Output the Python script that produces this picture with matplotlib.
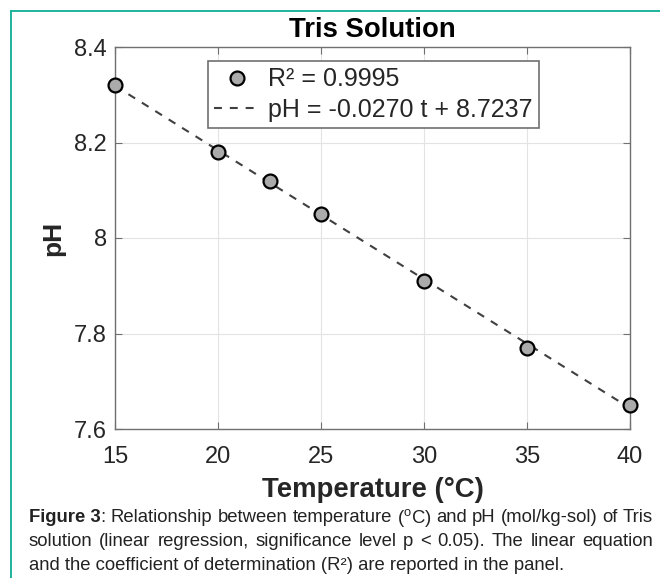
import matplotlib
matplotlib.use("Agg")
import matplotlib.pyplot as plt
from matplotlib.lines import Line2D
import numpy as np

plt.rcParams['font.family'] = ['Liberation Sans', 'DejaVu Sans']
plt.rcParams['mathtext.fontset'] = 'custom'
plt.rcParams['mathtext.rm'] = 'Liberation Sans'

# data
temperature = [15, 20, 22.5, 25, 30, 35, 40]
ph_values = [8.32, 8.18, 8.12, 8.05, 7.91, 7.77, 7.65]
slope = -0.0270
intercept = 8.7237
r2_label = "R² = 0.9995"
fit_label = "pH = -0.0270 t + 8.7237"

x_ticks = [15, 20, 25, 30, 35, 40]
y_ticks = [7.6, 7.8, 8.0, 8.2, 8.4]
y_tick_labels = ["7.6", "7.8", "8", "8.2", "8.4"]

W, H = 660, 578
fig = plt.figure(figsize=(6.6, 5.78), dpi=100)
ax = fig.add_axes([115 / W, 1 - 429 / H, 515 / W, 382 / H])

# fitted line
t_fit = np.array([temperature[0], temperature[-1]])
ax.plot(t_fit, slope * t_fit + intercept, color='#404040', lw=1.5,
        dashes=(3.8, 3.8), label=fit_label, zorder=2)
# measured points
ax.plot(temperature, ph_values, 'o', ms=10, mfc='#ababab', mec='black',
        mew=1.6, label=r2_label, zorder=3, clip_on=False)

ax.set_xlim(15, 40)
ax.set_ylim(7.6, 8.4)
ax.set_xticks(x_ticks)
ax.set_yticks(y_ticks)
ax.set_yticklabels(y_tick_labels)
ax.grid(True, color='#e3e3e3', lw=0.8)
ax.set_axisbelow(True)
ax.tick_params(direction='in', top=True, right=True, length=5, width=0.8,
               color='#707070', labelsize=17, labelcolor='#262626')
ax.tick_params(axis='x', pad=12)
ax.tick_params(axis='y', pad=6)
for s in ax.spines.values():
    s.set_color('#707070')
    s.set_linewidth(1.0)

ax.set_title("Tris Solution", fontsize=19.8, fontweight='bold', pad=7)
ax.set_xlabel("Temperature (°C)", fontsize=19.8, fontweight='bold',
              color='#262626', labelpad=7)
ax.set_ylabel("pH", fontsize=19, fontweight='bold', color='#262626',
              labelpad=6)

handles, labels = ax.get_legend_handles_labels()
leg = ax.legend(handles[::-1], labels[::-1], loc='upper left',
                bbox_to_anchor=(208 / W, 1 - 61 / H), bbox_transform=fig.transFigure,
                borderaxespad=0, fontsize=18, handlelength=1.85,
                handletextpad=0.3, labelspacing=0.25, borderpad=0.25,
                fancybox=False, framealpha=1, edgecolor='#707070')
leg.get_frame().set_linewidth(1.2)
for txt in leg.get_texts():
    txt.set_color('#262626')

# teal frame on the left and top
teal = '#1db39c'
fig.add_artist(Line2D([11 / W, 11 / W], [0, 1 - 11 / H], color=teal, lw=1.4,
                      transform=fig.transFigure))
fig.add_artist(Line2D([11 / W, 1], [1 - 11 / H, 1 - 11 / H], color=teal, lw=1.4,
                      transform=fig.transFigure))

# caption, justified between x=29 and x=653
cap_size = 13.3
cap_lines = [
    [[("Figure 3", 'bold'), (":", 'normal')], "Relationship", "between", "temperature",
     r"($^{\mathrm{o}}$C)", "and", "pH", "(mol/kg-sol)", "of", "Tris"],
    ["solution", "(linear", "regression,", "significance", "level", "p", "<", "0.05).",
     "The", "linear", "equation"],
]
cap_last = "and the coefficient of determination (R²) are reported in the panel."
cap_y = [518, 542, 565]
x_left, x_right = 29, 653

renderer = fig.canvas.get_renderer()


def word_pieces(word):
    if isinstance(word, str):
        return [(word, 'normal')]
    return word


for line, yy in zip(cap_lines, cap_y):
    widths = []
    for word in line:
        w = 0
        for piece, weight in word_pieces(word):
            t = fig.text(0, 0, piece, fontsize=cap_size, fontweight=weight)
            w += t.get_window_extent(renderer).width
            t.remove()
        widths.append(w)
    gap = (x_right - x_left - sum(widths)) / (len(line) - 1)
    x = x_left
    for word, w in zip(line, widths):
        xp = x
        for piece, weight in word_pieces(word):
            t = fig.text(xp / W, 1 - yy / H, piece, fontsize=cap_size,
                         fontweight=weight, va='center', ha='left', color='#222222')
            xp += t.get_window_extent(renderer).width
        x += w + gap

fig.text(x_left / W, 1 - cap_y[2] / H, cap_last, fontsize=cap_size, va='center',
         ha='left', color='#222222')

fig.savefig("out.png", dpi=100)
